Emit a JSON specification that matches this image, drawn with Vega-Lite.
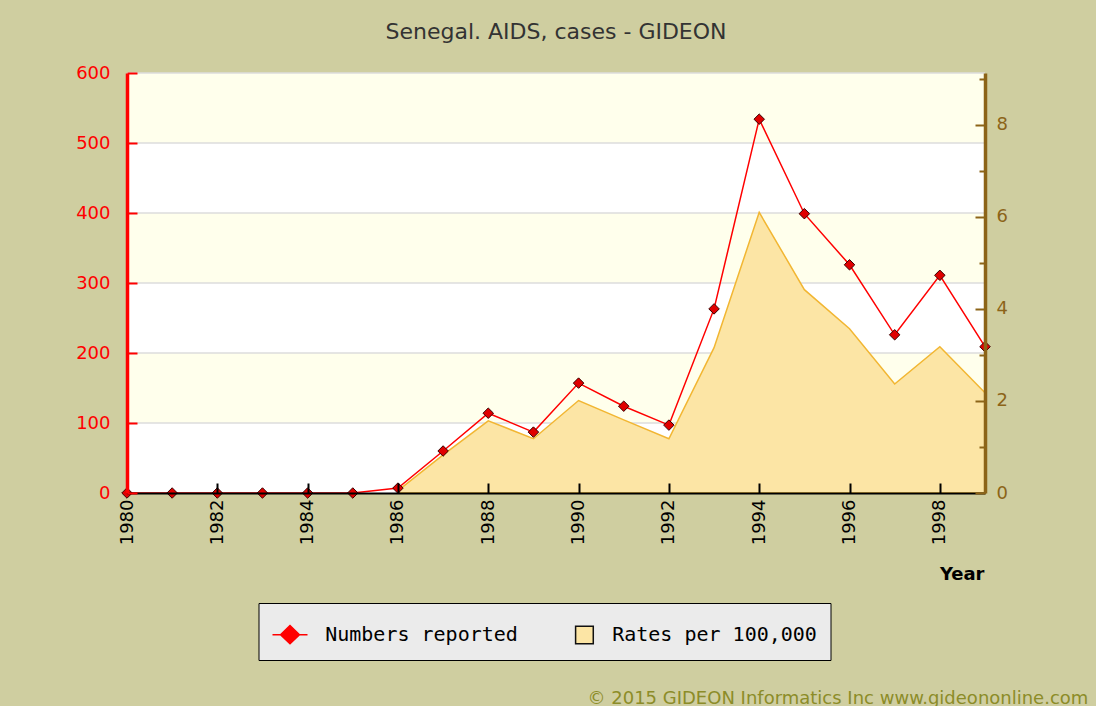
{
  "$schema": "https://vega.github.io/schema/vega-lite/v6.json",
  "width": 858,
  "height": 420,
  "autosize": {"type": "none"},
  "padding": {"left": 127, "top": 73, "right": 111, "bottom": 213},
  "background": "#CFCEA0",
  "title": {
    "text": "Senegal. AIDS, cases - GIDEON",
    "anchor": "middle",
    "frame": "group",
    "font": "DejaVu Sans",
    "fontSize": 22,
    "fontWeight": "normal",
    "color": "#333333",
    "offset": 3,
    "baseline": "alphabetic"
  },
  "config": {
    "view": {"stroke": null}
  },
  "datasets": {
    "main": [
      {"year": 1980, "cases": 0, "rate": null},
      {"year": 1981, "cases": 0, "rate": null},
      {"year": 1982, "cases": 0, "rate": null},
      {"year": 1983, "cases": 0, "rate": null},
      {"year": 1984, "cases": 0, "rate": null},
      {"year": 1985, "cases": 0, "rate": null},
      {"year": 1986, "cases": 7, "rate": 0.05},
      {"year": 1987, "cases": 60, "rate": 0.83},
      {"year": 1988, "cases": 114, "rate": 1.57},
      {"year": 1989, "cases": 87, "rate": 1.18},
      {"year": 1990, "cases": 157, "rate": 2.01},
      {"year": 1991, "cases": 124, "rate": 1.59},
      {"year": 1992, "cases": 97, "rate": 1.18},
      {"year": 1993, "cases": 263, "rate": 3.16},
      {"year": 1994, "cases": 534, "rate": 6.1},
      {"year": 1995, "cases": 399, "rate": 4.42},
      {"year": 1996, "cases": 326, "rate": 3.57},
      {"year": 1997, "cases": 226, "rate": 2.37},
      {"year": 1998, "cases": 311, "rate": 3.18},
      {"year": 1999, "cases": 209, "rate": 2.18}
    ],
    "frame": [
      {"lo": 0, "hi": 600}
    ],
    "bands": [
      {"lo": 100, "hi": 200},
      {"lo": 300, "hi": 400},
      {"lo": 500, "hi": 600}
    ],
    "grid": [
      {"v": 100}, {"v": 200}, {"v": 300}, {"v": 400}, {"v": 500}, {"v": 600}
    ],
    "legend": [
      {"series": "Numbers reported"},
      {"series": "Rates per 100,000"}
    ]
  },
  "layer": [
    {
      "layer": [
        {
          "data": {"name": "frame"},
          "mark": {"type": "rect", "fill": "#FFFFFF"},
          "encoding": {
            "y": {"field": "lo", "type": "quantitative", "scale": {"domain": [0, 600], "nice": false}, "axis": null},
            "y2": {"field": "hi"}
          }
        },
        {
          "data": {"name": "bands"},
          "mark": {"type": "rect", "fill": "#FFFFEC"},
          "encoding": {
            "y": {"field": "lo", "type": "quantitative"},
            "y2": {"field": "hi"}
          }
        },
        {
          "data": {"name": "grid"},
          "mark": {"type": "rule", "color": "#DCDCDC", "strokeWidth": 1.5},
          "encoding": {
            "y": {"field": "v", "type": "quantitative"}
          }
        }
      ]
    },
    {
      "data": {"name": "main"},
      "mark": {"type": "area", "fill": "#FCE5A5", "stroke": "#F2B632", "strokeWidth": 1.5, "opacity": 1},
      "encoding": {
        "x": {"field": "year", "type": "quantitative", "scale": {"domain": [1980, 1999], "nice": false, "zero": false}},
        "y": {
          "field": "rate",
          "type": "quantitative",
          "scale": {"domain": [0, 9.13], "nice": false},
          "axis": {
            "orient": "right",
            "values": [0, 1, 2, 3, 4, 5, 6, 7, 8, 9],
            "labelExpr": "datum.value % 2 === 0 ? datum.label : ''",
            "domainColor": "#8C6418",
            "domainWidth": 3.5,
            "tickColor": "#8C6418",
            "tickWidth": 2,
            "tickSize": {"condition": {"test": "datum.value % 2 === 0", "value": -10}, "value": -6},
            "labelColor": "#8C6418",
            "labelFont": "DejaVu Sans",
            "labelFontSize": 18,
            "labelPadding": 21,
            "grid": false,
            "title": null,
            "zindex": 1
          }
        }
      }
    },
    {
      "layer": [
        {
          "data": {"name": "main"},
          "mark": {"type": "line", "color": "#FF0000", "strokeWidth": 1.5},
          "encoding": {
            "x": {
              "field": "year",
              "type": "quantitative",
              "axis": {
                "values": [1980, 1982, 1984, 1986, 1988, 1990, 1992, 1994, 1996, 1998],
                "format": "d",
                "labelAngle": -90,
                "labelColor": "#000000",
                "labelFont": "DejaVu Sans",
                "labelFontSize": 18,
                "labelPadding": 16,
                "domainColor": "#000000",
                "domainWidth": 2,
                "tickColor": "#000000",
                "tickWidth": 2,
                "tickSize": -10,
                "grid": false,
                "title": "Year",
                "titleFont": "DejaVu Sans",
                "titleFontSize": 18,
                "titleFontWeight": "bold",
                "titleColor": "#000000",
                "titleX": 857,
                "titleY": 86,
                "titleAlign": "right",
                "titleBaseline": "alphabetic",
                "zindex": 1
              }
            },
            "y": {
              "field": "cases",
              "type": "quantitative",
              "scale": {"domain": [0, 600], "nice": false},
              "axis": {
                "orient": "left",
                "values": [0, 50, 100, 150, 200, 250, 300, 350, 400, 450, 500, 550, 600],
                "labelExpr": "datum.value % 100 === 0 ? datum.label : ''",
                "domainColor": "#FF0000",
                "domainWidth": 3.5,
                "tickColor": "#FF0000",
                "tickWidth": 2,
                "tickSize": {"condition": {"test": "datum.value % 100 === 0", "value": -10}, "value": -6},
                "labelColor": "#FF0000",
                "labelFont": "DejaVu Sans",
                "labelFontSize": 18,
                "labelPadding": 27,
                "grid": false,
                "title": "© 2015 GIDEON Informatics Inc www.gideononline.com",
                "titleAngle": 0,
                "titleX": 460,
                "titleY": 630,
                "titleAlign": "left",
                "titleBaseline": "alphabetic",
                "titleColor": "#8C8C28",
                "titleFont": "DejaVu Sans",
                "titleFontSize": 18,
                "titleFontWeight": "normal",
                "zindex": 1
              }
            }
          }
        },
        {
          "data": {"name": "main"},
          "mark": {"type": "point", "shape": "diamond", "filled": true, "fill": "#E00000", "stroke": "#3A0000", "strokeWidth": 1, "size": 110, "opacity": 1},
          "encoding": {
            "x": {"field": "year", "type": "quantitative"},
            "y": {"field": "cases", "type": "quantitative"}
          }
        },
        {
          "data": {"name": "legend"},
          "mark": {"type": "point", "opacity": 0, "filled": true},
          "encoding": {
            "shape": {
              "field": "series",
              "type": "nominal",
              "scale": {
                "domain": ["Numbers reported", "Rates per 100,000"],
                "range": ["M-1,0H1M0,-0.52L0.54,0L0,0.52L-0.54,0Z", "M-0.08,-0.5H0.93V0.5H-0.08Z"]
              },
              "legend": {
                "title": null,
                "orient": "none",
                "legendX": 131.5,
                "legendY": 530,
                "direction": "horizontal",
                "fillColor": "#EBEBEB",
                "strokeColor": "#000000",
                "padding": 13,
                "columnPadding": 40,
                "symbolSize": 1225,
                "symbolStrokeWidth": 1.5,
                "symbolOpacity": 1,
                "labelOffset": 16.7,
                "labelFont": "DejaVu Sans Mono",
                "labelFontSize": 20,
                "labelColor": "#000000",
                "labelLimit": 400,
                "labelExpr": "datum.value === 'Rates per 100,000' ? datum.value + '\u2007\u2007' : datum.value",
                "encode": {
                  "legend": {"update": {"strokeWidth": {"value": 2}}},
                  "symbols": {"update": {"opacity": {"value": 1}}}
                }
              }
            },
            "fill": {
              "field": "series",
              "type": "nominal",
              "scale": {"domain": ["Numbers reported", "Rates per 100,000"], "range": ["#FF0000", "#FCE5A5"]}
            },
            "stroke": {
              "field": "series",
              "type": "nominal",
              "scale": {"domain": ["Numbers reported", "Rates per 100,000"], "range": ["#FF0000", "#111111"]}
            }
          }
        }
      ]
    }
  ],
  "resolve": {"scale": {"y": "independent"}}
}
